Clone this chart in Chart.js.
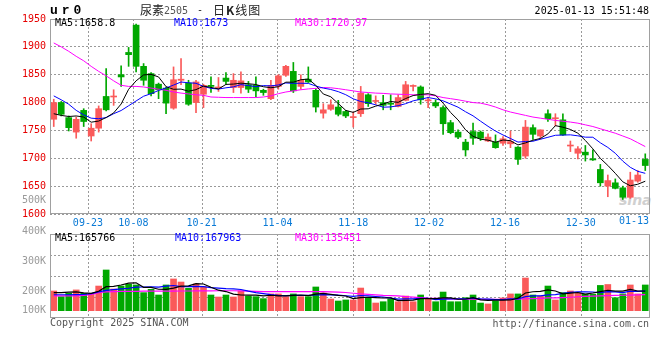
<!DOCTYPE html>
<html>
<head>
<meta charset="utf-8">
<script src="https://cdn.jsdelivr.net/npm/chart.js@4.4.1/dist/chart.umd.min.js"></script>
<style>
  body { margin: 0; background: #fff; }
  #wrap { position: relative; width: 660px; height: 360px; overflow: hidden; font-family: "DejaVu Sans Mono", monospace; font-size: 10px; }
  canvas { position: absolute; left: 0; top: 0; }
  .t { position: absolute; white-space: pre; line-height: 12px; }
  .r { text-align: right; }
  .grey { color: #9a9a9a; }
  .cjk { font-family: "Noto Sans CJK SC"; font-size: 12px; color: #222; line-height: 14px; }
</style>
</head>
<body>
<div id="wrap">
  <div class="t" style="left:619px;top:192px;font:italic bold 14px 'DejaVu Sans';color:#d0d0d0;line-height:16px">sina</div>
  <canvas id="kline" width="660" height="232"></canvas>
  <canvas id="vol" width="660" height="360"></canvas>

  <div class="t" style="left:50px;top:4px;font:bold 13px 'Liberation Mono';letter-spacing:4px;line-height:14px">ur0</div>
  <div class="t cjk" style="left:140px;top:3px">尿素</div>
  <div class="t" style="left:164px;top:5px;color:#555">2505</div>
  <div class="t" style="left:197px;top:4px;color:#222">-</div>
  <div class="t cjk" style="left:213px;top:3px;letter-spacing:1px">日<b>K</b>线图</div>
  <div class="t" style="right:11px;top:5px">2025-01-13 15:51:48</div>

  <div class="t" style="left:55px;top:17px;color:#000">MA5:1658.8</div>
  <div class="t" style="left:174px;top:17px;color:#0000ff">MA10:1673</div>
  <div class="t" style="left:295px;top:17px;color:#ff00ff">MA30:1720.97</div>

  <div class="t r grey" style="right:614px;top:194px">500K</div>
  <div class="t r grey" style="right:614px;top:225px">400K</div>
  <div class="t r grey" style="right:614px;top:255px">300K</div>
  <div class="t r grey" style="right:614px;top:285px">200K</div>
  <div class="t r grey" style="right:614px;top:304px">100K</div>

  <div class="t" style="right:11px;top:215px;color:#0a7ad6">01-13</div>

  <div class="t" style="left:55px;top:232px;color:#000">MA5:165766</div>
  <div class="t" style="left:175px;top:232px;color:#0000ff">MA10:167963</div>
  <div class="t" style="left:295px;top:232px;color:#ff00ff">MA30:135451</div>

  <div class="t" style="left:50px;top:317px;color:#555">Copyright 2025 SINA.COM</div>
  <div class="t" style="right:11px;top:318px;color:#555">http://finance.sina.com.cn</div>
</div>

<script>
// trading days shown (UR2505 daily)
const dates = ["09-12","09-13","09-18","09-19","09-20","09-23","09-24","09-25","09-26","09-27",
  "09-30","10-08","10-09","10-10","10-11","10-14","10-15","10-16","10-17","10-18",
  "10-21","10-22","10-23","10-24","10-25","10-28","10-29","10-30","10-31","11-01",
  "11-04","11-05","11-06","11-07","11-08","11-11","11-12","11-13","11-14","11-15",
  "11-18","11-19","11-20","11-21","11-22","11-25","11-26","11-27","11-28","11-29",
  "12-02","12-03","12-04","12-05","12-06","12-09","12-10","12-11","12-12","12-13",
  "12-16","12-17","12-18","12-19","12-20","12-23","12-24","12-25","12-26","12-27",
  "12-30","12-31","01-02","01-03","01-06","01-07","01-08","01-09","01-10","01-13"];

const tickDates = ["09-23","10-08","10-21","11-04","11-18","12-02","12-16","12-30"];

const opens = [1770,1800,1773,1747,1786,1740,1754,1811,1810,1850,
  1890,1939,1865,1852,1833,1826,1790,1840,1835,1800,
  1815,1831,1826,1844,1827,1827,1832,1831,1822,1807,
  1829,1849,1856,1829,1842,1822,1781,1788,1792,1784,
  1773,1780,1814,1802,1800,1798,1793,1804,1829,1828,
  1803,1800,1791,1764,1747,1729,1748,1747,1731,1729,
  1727,1726,1720,1704,1755,1740,1780,1771,1769,1722,
  1709,1711,1699,1680,1650,1656,1647,1630,1659,1698];

const closes = [1800,1779,1755,1770,1766,1754,1789,1787,1811,1846,
  1886,1865,1840,1816,1823,1799,1841,1842,1797,1837,
  1831,1829,1828,1838,1840,1839,1824,1821,1818,1831,
  1848,1865,1821,1840,1837,1792,1787,1796,1779,1776,
  1774,1817,1798,1803,1795,1797,1809,1832,1830,1805,
  1804,1794,1762,1746,1738,1715,1736,1736,1738,1719,
  1735,1730,1698,1756,1743,1751,1771,1772,1742,1723,
  1717,1706,1697,1656,1660,1646,1630,1661,1670,1687];

const highs = [1806,1802,1776,1774,1789,1762,1794,1861,1823,1866,
  1899,1941,1870,1854,1835,1828,1864,1879,1840,1840,
  1833,1846,1845,1854,1852,1855,1838,1846,1824,1840,
  1850,1867,1872,1850,1864,1825,1798,1805,1804,1786,
  1783,1829,1816,1812,1813,1814,1814,1838,1832,1830,
  1810,1805,1794,1768,1751,1734,1763,1749,1744,1742,
  1739,1749,1721,1768,1760,1751,1787,1780,1780,1731,
  1721,1723,1715,1689,1670,1663,1650,1675,1678,1708];

const lows = [1757,1776,1749,1736,1757,1731,1747,1785,1795,1829,
  1865,1855,1831,1812,1807,1780,1788,1832,1795,1782,
  1791,1818,1820,1833,1818,1817,1818,1810,1813,1805,
  1824,1847,1818,1824,1836,1783,1772,1786,1776,1773,
  1756,1775,1793,1797,1787,1787,1792,1803,1821,1797,
  1791,1791,1743,1744,1735,1704,1725,1732,1730,1718,
  1723,1719,1689,1700,1734,1734,1766,1758,1741,1712,
  1699,1695,1696,1650,1631,1645,1626,1628,1657,1678];

const ma5 = [1780,1777,1775,1776,1774,1764.8,1766.8,1773.2,1781.4,1797.4,
  1823.8,1839,1849.6,1850.6,1846,1828.6,1823.8,1824.2,1820.4,1823.2,
  1829.6,1827.2,1824.4,1832.6,1833.2,1834.8,1833.8,1832.4,1828.4,1826.6,
  1828.4,1836.6,1836.6,1841,1842.2,1831,1815.4,1810.4,1798.2,1786,
  1782.4,1788.4,1788.8,1793.6,1797.4,1802,1800.4,1807.2,1812.6,1814.6,
  1816,1813,1799,1782.2,1768.8,1751,1739.4,1734.2,1732.6,1728.8,
  1732.8,1731.6,1724,1727.6,1732.4,1735.6,1743.8,1758.6,1755.8,1751.8,
  1745,1732,1717,1699.8,1687.2,1673,1657.8,1650.6,1653.4,1658.8];

const ma10 = [1812,1805,1797,1786,1778,1772,1771,1773,1780,1785.7,
  1794.3,1802.9,1811.4,1816,1821.7,1826.2,1831.4,1836.9,1835.5,1834.6,
  1829.1,1825.5,1824.3,1826.5,1828.2,1832.2,1830.5,1828.4,1830.5,1829.9,
  1831.6,1835.2,1834.5,1834.7,1834.4,1829.7,1826,1823.5,1819.6,1814.1,
  1806.7,1801.9,1799.6,1795.9,1791.7,1792.2,1794.4,1798,1803.1,1806,
  1809,1806.7,1803.1,1797.4,1791.7,1783.5,1776.2,1766.6,1757.4,1748.8,
  1741.9,1735.5,1729.1,1730.1,1730.6,1734.2,1737.7,1741.3,1741.7,1742.1,
  1740.3,1737.9,1737.8,1727.8,1719.5,1709,1694.9,1683.8,1676.6,1673];

const ma30 = [1907,1900,1892,1883,1875,1865,1856,1848,1839,1831,
  1829,1829,1828,1826,1824,1822,1819,1817,1815.5,1814,
  1813,1810,1809.5,1809,1809,1809,1809,1809,1810,1812,
  1816,1819,1821,1823,1824.5,1825.5,1827,1826.5,1825,1823,
  1821,1819,1818,1817,1816.5,1815.5,1815,1814.5,1814,1814,
  1814,1812,1809,1807,1805,1802.5,1800,1799,1796,1792,
  1787,1783,1780,1777,1774,1772,1770,1768,1766.5,1765,
  1763,1760,1757,1753,1749,1745,1740,1735,1728,1721];

// volume, thousands of lots
const volume = [167,119,147,176,147,142,209,345,184,209,
  224,218,153,181,133,218,269,243,190,226,
  203,133,116,133,116,167,124,119,102,142,
  142,119,142,119,119,201,150,99,82,91,
  91,192,113,65,76,99,76,124,76,133,
  99,76,158,76,76,110,133,65,57,82,
  108,142,142,277,133,124,209,91,153,167,
  150,140,140,214,222,110,142,218,142,218];

const volMa5 = [153,153,158,160,151.2,146.2,164.2,203.8,205.4,217.8,
  234.2,236,197.6,197,181.8,180.6,190.8,208.8,210.6,229.2,
  226.2,199,173.6,162.2,140.2,133,131.2,131.8,125.6,130.8,
  125.8,124.8,129.4,132.8,128.2,140,146.2,137.6,130.2,124.6,
  102.6,111,113.8,110.4,107.4,109,85.8,88,90.2,101.6,
  101.6,101.6,108.4,108.4,97,99.2,110.6,92,88.2,89.4,
  89,90.8,106.2,150.2,160.4,163.6,177,166.8,142,148.8,
  154,140.2,150,162.2,173.2,165.2,165.6,181.2,166.8,165.8];

const volMa10 = [135,135,135,136,137,145,160,172,178,184.5,
  190.2,200.1,200.7,201.2,199.8,207.4,213.4,203.2,203.8,205.5,
  203.4,194.9,191.2,186.4,184.7,179.6,165.1,152.7,143.9,135.5,
  129.4,128,130.6,129.2,129.5,132.9,135.5,133.5,131.5,126.4,
  121.3,128.6,125.7,120.3,116,105.8,98.4,100.9,100.3,104.5,
  105.3,93.7,98.2,99.3,99.3,100.4,106.1,100.2,98.3,93.2,
  94.1,100.7,99.1,119.2,124.9,126.3,133.9,136.5,146.1,154.6,
  158.8,158.6,158.4,152.1,161,159.6,152.9,165.6,164.5,168];

const volMa30 = [125,125,125,126,130,138,152,160,162,163,
  164,164,165,165,165,166,166,167,167,168,
  168,168,169,169,169,168,166,164,162,161,
  161,161,161,161,161,161,161,160,158,154,
  148,142,138,134,130,128,125,120,115,110,
  106,104,102,100,98,97,97,96,96,96,
  97,97,98,101,103,105,108,109,111,114,
  118,121,124,126,128,130,131,132,134,135.5];

const upColor = "#fa5a5a";
const downColor = "#00a800";
const candleColors = opens.map((o, i) => (closes[i] >= o ? upColor : downColor));

const monoFont = { family: "DejaVu Sans Mono", size: 10 };
const gridColor = "#999999";

// grey box round each panel
const frame = {
  id: "frame",
  afterDraw(chart) {
    const { ctx, chartArea: a } = chart;
    ctx.save();
    ctx.strokeStyle = "#a0a0a0";
    ctx.lineWidth = 1;
    ctx.strokeRect(a.left + 0.5, a.top + 0.5, a.right - a.left, a.bottom - a.top - 1);
    ctx.restore();
  },
};

// dotted vertical lines at the date ticks
const dateLines = {
  id: "dateLines",
  beforeDatasetsDraw(chart) {
    const { ctx, chartArea: a } = chart;
    const xg = chart.scales.xg;
    ctx.save();
    ctx.strokeStyle = gridColor;
    ctx.lineWidth = 1;
    ctx.setLineDash([2, 2]);
    for (let i = 0; i < xg.ticks.length; i++) {
      const x = Math.round(xg.getPixelForTick(i)) + 0.5;
      ctx.beginPath();
      ctx.moveTo(x, a.top);
      ctx.lineTo(x, a.bottom);
      ctx.stroke();
    }
    ctx.restore();
  },
};

function maLine(data, color, width) {
  return {
    type: "line",
    data: data,
    xAxisID: "x",
    borderColor: color,
    borderWidth: width,
    pointRadius: 0,
    tension: 0,
    order: 0,
  };
}

// date axis: Sina spaces it over length-1 steps
function dateAxis(showLabels) {
  return {
    type: "linear",
    position: "bottom",
    offset: false,
    min: 0,
    max: dates.length - 1,
    afterBuildTicks: (s) => {
      s.ticks = tickDates.map((d) => ({ value: dates.indexOf(d) }));
    },
    afterFit: (s) => {
      s.height = showLabels ? 18 : 0;
    },
    grid: { display: false, drawTicks: false, offset: false },
    border: { display: false },
    ticks: {
      display: showLabels,
      autoSkip: false,
      maxRotation: 0,
      padding: 3,
      color: "#0a7ad6",
      font: monoFont,
      callback: (v) => dates[v],
    },
  };
}

// price panel
new Chart(document.getElementById("kline"), {
  type: "bar",
  data: {
    labels: dates,
    datasets: [
      maLine(ma5, "#000000", 1),
      maLine(ma10, "#0000ff", 1),
      maLine(ma30, "#ff00ff", 1),
      {
        data: opens.map((o, i) => [o, closes[i]]),
        xAxisID: "x",
        backgroundColor: candleColors,
        barThickness: 6,
        minBarLength: 1,
        grouped: false,
        order: 1,
      },
      {
        data: lows.map((l, i) => [l, highs[i]]),
        xAxisID: "x",
        backgroundColor: candleColors,
        barThickness: 1,
        grouped: false,
        order: 2,
      },
    ],
  },
  options: {
    responsive: false,
    animation: false,
    layout: { padding: { top: 19, right: 11, left: 0, bottom: 0 } },
    plugins: { legend: { display: false }, tooltip: { enabled: false } },
    scales: {
      x: { display: false, offset: true },
      xg: dateAxis(true),
      y: {
        min: 1600,
        max: 1950,
        afterFit: (s) => {
          s.width = 50;
        },
        ticks: { stepSize: 50, color: "#e60000", padding: 4, font: monoFont, callback: (v) => String(v) },
        grid: { color: gridColor, drawTicks: false },
        border: { display: false, dash: [2, 2] },
      },
    },
  },
  plugins: [dateLines, frame],
});

// volume panel
new Chart(document.getElementById("vol"), {
  type: "bar",
  data: {
    labels: dates,
    datasets: [
      maLine(volMa5, "#000000", 1.2),
      maLine(volMa10, "#0000ff", 1.2),
      maLine(volMa30, "#ff00ff", 1.2),
      {
        data: volume,
        xAxisID: "x",
        backgroundColor: candleColors,
        barThickness: 6,
        grouped: false,
        order: 1,
      },
    ],
  },
  options: {
    responsive: false,
    animation: false,
    layout: { padding: { top: 234, right: 11, left: 50, bottom: 42 } },
    plugins: { legend: { display: false }, tooltip: { enabled: false } },
    scales: {
      x: { display: false, offset: true },
      xg: dateAxis(false),
      y: {
        min: -62,
        max: 650,
        afterBuildTicks: (s) => {
          const step = (s.max - s.min) / 4;
          s.ticks = [1, 2, 3].map((k) => ({ value: s.min + k * step }));
        },
        afterFit: (s) => {
          s.width = 0;
        },
        ticks: { display: false },
        grid: { color: gridColor, drawTicks: false },
        border: { display: false, dash: [2, 2] },
      },
    },
  },
  plugins: [dateLines, frame],
});
</script>
</body>
</html>
